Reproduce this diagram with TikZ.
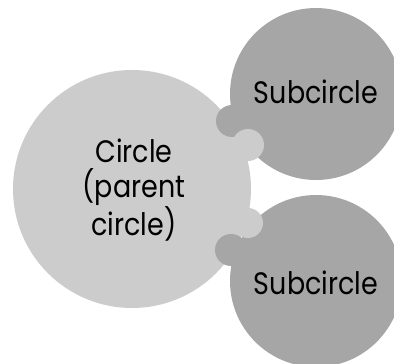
\documentclass[tikz,border=0pt]{standalone}
\usepackage{fontspec}
\setmainfont{Poppins}[FakeStretch=0.87]
\begin{document}
\begin{tikzpicture}[x=1pt,y=-1pt,
  lightdisc/.style={circle,fill=parentgray,inner sep=0pt,minimum size=#1},
  darkdisc/.style={circle,fill=subgray,inner sep=0pt,minimum size=#1},
  label/.style={font=\fontsize{31}{35}\selectfont,text=black,align=center}]
  \definecolor{parentgray}{HTML}{CCCCCC}
  \definecolor{subgray}{HTML}{A6A6A6}
  \useasboundingbox (0,0) rectangle (394,364);
  \clip (0,0) rectangle (394,364);
  % main discs
  \node[lightdisc=238pt] (parent) at (132,189) {};
  \node[darkdisc=172pt] (subA) at (316,94) {};
  \node[darkdisc=172pt] (subB) at (316,281) {};
  % puzzle tabs: dark tabs reach into the parent, light tabs into the subcircles
  \node[darkdisc=32pt] (tabA) at (232,121) {};
  \node[darkdisc=32pt] (tabB) at (231,250) {};
  \node[lightdisc=32pt] (knobA) at (248,145) {};
  \node[lightdisc=30pt] (knobB) at (248,223) {};
  % texts
  \node[label] (parenttext) at (134,190) {Circle\\(parent\\circle)};
  \node[label] (subAtext) at (316,92) {Subcircle};
  \node[label] (subBtext) at (316,283) {Subcircle};
\end{tikzpicture}
\end{document}
